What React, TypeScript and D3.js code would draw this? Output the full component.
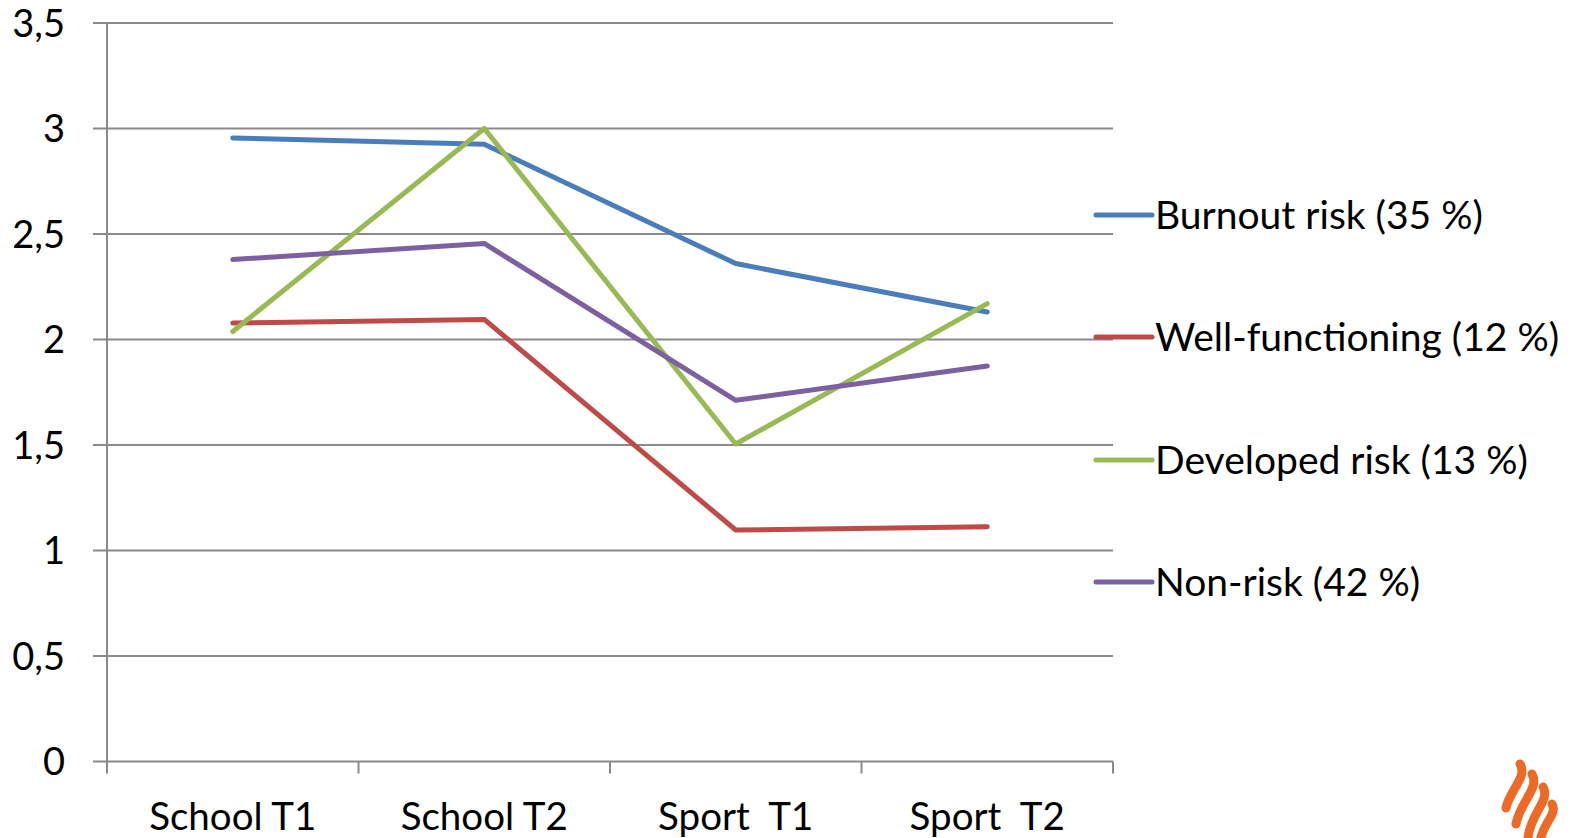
import { useEffect, useRef } from "react";
import * as d3 from "d3";

const categories = ["School T1", "School T2", "Sport  T1", "Sport  T2"];
const yTicks = [0, 0.5, 1, 1.5, 2, 2.5, 3, 3.5];

const seriesNames = [
  "Burnout risk (35 %)",
  "Well-functioning (12 %)",
  "Developed risk (13 %)",
  "Non-risk (42 %)",
];
const seriesColors = ["#4a7ebb", "#be4b48", "#98b954", "#7d60a0"];

const burnoutRisk = [2.955, 2.925, 2.36, 2.13];
const wellFunctioning = [2.078, 2.095, 1.097, 1.113];
const developedRisk = [2.038, 3.0, 1.505, 2.17];
const nonRisk = [2.379, 2.455, 1.712, 1.874];

const seriesValues = [burnoutRisk, wellFunctioning, developedRisk, nonRisk];

const FONT = "Lato, 'Open Sans', sans-serif";

export default function App() {
  const svgRef = useRef<SVGSVGElement>(null);

  useEffect(() => {
    if (!svgRef.current) return;
    const svg = d3.select(svgRef.current);
    svg.selectAll("*").remove();

    const left = 107;
    const right = 1113;
    const top = 23;
    const bottom = 761.5;

    const x = d3.scaleBand<string>().domain(categories).range([left, right]);
    const y = d3.scaleLinear().domain([0, 3.5]).range([bottom, top]);
    const cx = (c: string) => (x(c) ?? 0) + x.bandwidth() / 2;

    // gridlines + left tick stubs
    svg
      .append("g")
      .selectAll("line")
      .data(yTicks)
      .enter()
      .append("line")
      .attr("x1", left - 14)
      .attr("x2", right)
      .attr("y1", (d) => y(d))
      .attr("y2", (d) => y(d))
      .attr("stroke", "#8a8a8a")
      .attr("stroke-width", 2);

    // y axis line
    svg
      .append("line")
      .attr("x1", left)
      .attr("x2", left)
      .attr("y1", top)
      .attr("y2", bottom + 12)
      .attr("stroke", "#8a8a8a")
      .attr("stroke-width", 2);

    // x tick marks at band edges
    const edges = categories.map((c) => x(c) as number).concat([right]);
    svg
      .append("g")
      .selectAll("line")
      .data(edges.slice(1))
      .enter()
      .append("line")
      .attr("x1", (d) => d)
      .attr("x2", (d) => d)
      .attr("y1", bottom)
      .attr("y2", bottom + 12)
      .attr("stroke", "#8a8a8a")
      .attr("stroke-width", 2);

    // y labels
    svg
      .append("g")
      .selectAll("text")
      .data(yTicks)
      .enter()
      .append("text")
      .attr("x", 65)
      .attr("y", (d) => y(d) + 13.5)
      .attr("text-anchor", "end")
      .style("font-family", FONT)
      .style("font-size", "38px")
      .attr("fill", "#000")
      .text((d) => String(d).replace(".", ","));

    // x labels
    svg
      .append("g")
      .selectAll("text")
      .data(categories)
      .enter()
      .append("text")
      .attr("x", (d) => cx(d))
      .attr("y", 830)
      .attr("text-anchor", "middle")
      .style("font-family", FONT)
      .style("font-size", "38.5px")
      .style("white-space", "pre")
      .attr("fill", "#000")
      .text((d) => d);

    // series lines
    const line = d3
      .line<number>()
      .x((_, i) => cx(categories[i]))
      .y((d) => y(d));

    seriesValues.forEach((vals, i) => {
      svg
        .append("path")
        .datum(vals)
        .attr("d", line)
        .attr("fill", "none")
        .attr("stroke", seriesColors[i])
        .attr("stroke-width", 5)
        .attr("stroke-linecap", "round")
        .attr("stroke-linejoin", "round");
    });

    // legend
    const legendY = [215, 337, 460, 582];
    seriesNames.forEach((name, i) => {
      const g = svg.append("g").attr("transform", `translate(0, ${legendY[i]})`);
      g.append("line")
        .attr("x1", 1096)
        .attr("x2", 1152)
        .attr("stroke", seriesColors[i])
        .attr("stroke-width", 5)
        .attr("stroke-linecap", "round");
      g.append("text")
        .attr("x", 1155)
        .attr("y", 14)
        .style("font-family", FONT)
        .style("font-size", "39px")
        .attr("fill", "#000")
        .text(name);
    });

    // flame logo in the corner
    const logo = svg.append("g").attr("transform", "translate(1498, 762)");
    const strokes = [
      "M 22 2 C 30 14, 12 28, 8 46",
      "M 34 12 C 42 26, 22 40, 18 62",
      "M 45 25 C 53 38, 32 52, 30 76",
      "M 54 42 C 60 52, 44 62, 42 80",
    ];
    logo
      .selectAll("path")
      .data(strokes)
      .enter()
      .append("path")
      .attr("d", (d) => d)
      .attr("fill", "none")
      .attr("stroke", "#ec6a25")
      .attr("stroke-width", 9)
      .attr("stroke-linecap", "round");
  }, []);

  return (
    <svg
      ref={svgRef}
      width={1575}
      height={838}
      style={{ position: "absolute", left: 0, top: 0, background: "#fff" }}
    ></svg>
  );
}
